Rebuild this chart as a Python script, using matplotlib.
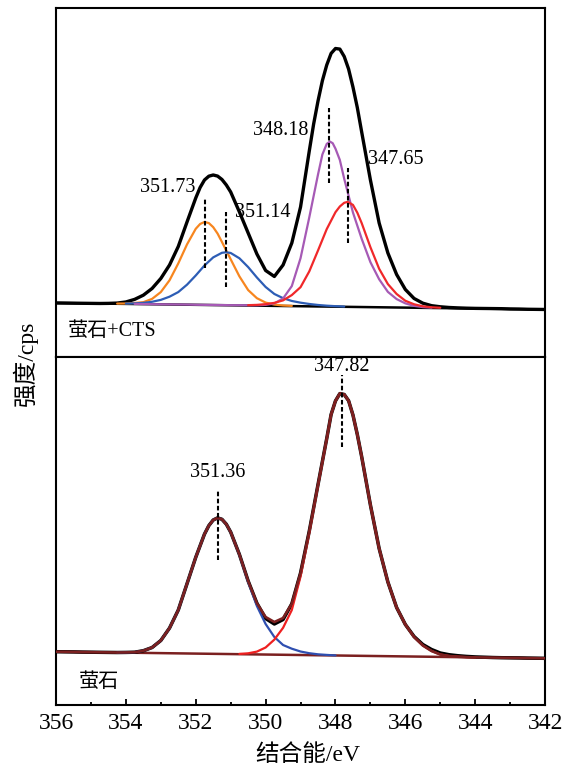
import numpy as np
import matplotlib
matplotlib.use("Agg")
import matplotlib.pyplot as plt

plt.rcParams['font.family'] = ['Liberation Serif', 'Noto Sans CJK SC']
plt.rcParams['axes.unicode_minus'] = False

# shared energy grid, 356 -> 342 eV in 0.25 eV steps
grid = list(np.round(np.arange(356.0, 341.99, -0.25), 2))

# ---- top panel: fluorite + CTS ----
top_black = [54.0, 53.9, 53.8, 53.7, 53.6, 53.5, 53.6, 53.9, 55.0, 57.6,
             61.8, 68.5, 78.5, 92.0, 110.5, 135.0, 159.0, 177.0, 182.0, 177.5,
             165.0, 145.0, 124.0, 103.0, 86.5, 80.5, 92.0, 114.0, 150.0, 206.0,
             256.0, 292.0, 308.5, 300.5, 270.0, 225.0, 177.0, 134.0, 104.0, 82.5,
             67.5, 58.5, 53.8, 51.3, 50.2, 49.5, 49.1, 48.8, 48.6, 48.5,
             48.4, 48.3, 48.0, 47.9, 47.7, 47.6, 47.5]
# extra readings between grid points around the peak tops
top_black_x_ev = [351.875, 351.625, 351.375, 351.125, 348.625, 348.375, 348.125,
                  347.875, 347.625, 347.375]
top_black_x = [169.5, 180.8, 180.9, 172.0, 233.0, 276.3, 303.6, 307.9, 288.0, 249.4]
top_base_ev = [356.0, 342.0]
top_base = [54.0, 47.5]

orange_ev = [354.25, 354.0, 353.75, 353.5, 353.25, 353.0, 352.75, 352.5, 352.25, 352.0,
             351.875, 351.75, 351.625, 351.5, 351.375, 351.25, 351.0, 350.75, 350.5,
             350.25, 350.0, 349.75, 349.5, 349.25]
orange_i = [53.4, 53.5, 54.0, 54.8, 58.1, 64.9, 76.7, 93.6, 112.6, 128.2,
            133.0, 135.0, 133.9, 129.8, 123.4, 115.0, 97.7, 80.6, 66.9,
            58.8, 54.4, 52.4, 51.5, 51.1]

blue_top_ev = [354.0, 353.75, 353.5, 353.25, 353.0, 352.75, 352.5, 352.25, 352.0, 351.75,
               351.5, 351.25, 351.125, 351.0, 350.75, 350.5, 350.25, 350.0, 349.75, 349.5,
               349.25, 349.0, 348.75, 348.5, 348.25, 348.0, 347.75]
blue_top_i = [53.4, 53.6, 54.1, 55.2, 57.1, 60.3, 64.9, 72.3, 81.5, 91.5,
              99.6, 104.2, 104.7, 104.0, 98.7, 89.9, 79.5, 70.0, 63.0, 58.8,
              56.0, 54.3, 53.0, 52.0, 51.3, 50.8, 50.4]

purple_ev = [353.75, 353.5, 353.25, 353.0, 352.75, 352.5, 352.25, 352.0, 351.75, 351.5,
             351.25, 351.0, 350.75, 350.5, 350.25, 350.0, 349.75, 349.5, 349.25, 349.0,
             348.75, 348.5, 348.375, 348.25, 348.16, 348.08, 348.0, 347.875, 347.75, 347.5,
             347.25, 347.0, 346.75, 346.5, 346.25, 346.0, 345.75, 345.5, 345.25]
purple_i = [53.1, 52.9, 52.8, 52.7, 52.6, 52.5, 52.4, 52.2, 52.1, 52.0,
            51.9, 51.8, 51.8, 51.7, 51.7, 52.1, 53.6, 58.5, 70.9, 98.8,
            139.6, 182.5, 202.5, 213.1, 215.4, 213.8, 208.3, 197.0, 178.2, 144.5,
            118.2, 94.8, 77.7, 65.1, 57.9, 53.6, 51.1, 49.9, 49.3]

red_top_ev = [350.5, 350.25, 350.0, 349.75, 349.5, 349.25, 349.0, 348.75, 348.5, 348.25,
              348.0, 347.875, 347.75, 347.65, 347.5, 347.375, 347.25, 347.0, 346.75, 346.5,
              346.25, 346.0, 345.75, 345.5, 345.25, 345.0]
red_top_i = [51.8, 52.1, 52.8, 54.1, 56.6, 61.9, 69.8, 85.6, 106.5, 127.9,
             144.8, 150.5, 154.2, 155.1, 152.1, 144.3, 133.9, 109.8, 88.2, 72.9,
             63.0, 56.2, 52.7, 50.7, 49.7, 49.2]

top_peaks = [351.73, 351.14, 348.18, 347.65]

# ---- bottom panel: fluorite ----
bot_black = [51.3, 51.2, 51.1, 50.9, 50.8, 50.7, 50.6, 50.5, 50.6, 50.8,
             52.3, 55.5, 62.5, 75.0, 93.0, 119.3, 145.7, 168.9, 183.0, 183.7,
             170.9, 148.5, 122.0, 99.8, 84.5, 79.0, 83.5, 99.2, 130.0, 171.9,
             218.4, 264.5, 302.1, 308.5, 288.0, 246.3, 198.0, 154.5, 121.0, 95.5,
             78.5, 66.5, 58.5, 53.5, 50.0, 48.3, 47.3, 46.6, 46.1, 45.8,
             45.5, 45.3, 45.2, 45.1, 44.9, 44.8, 44.7]
bot_fit = [51.3, 51.2, 51.1, 50.9, 50.8, 50.7, 50.6, 50.5, 50.6, 50.8,
           52.3, 55.5, 62.5, 75.0, 93.0, 119.3, 145.7, 168.9, 183.0, 183.7,
           170.9, 148.5, 122.0, 99.8, 86.0, 81.0, 85.0, 99.2, 130.0, 171.9,
           218.4, 264.5, 302.1, 308.5, 288.0, 246.3, 198.0, 154.5, 121.0, 95.5,
           78.5, 66.0, 57.5, 52.0, 48.5, 47.0, 46.3, 45.9, 45.7, 45.5,
           45.4, 45.3, 45.2, 45.1, 44.9, 44.8, 44.7]
# extra readings between grid points around the two peak tops
bot_x_ev = [351.625, 351.375, 351.125, 348.125, 347.875, 347.625, 347.375]
bot_x = [177.4, 185.1, 178.8, 288.5, 309.4, 302.3, 268.5]
bot_base_ev = [356.0, 342.0]
bot_base = [51.3, 44.7]

blue_bot_ev = [354.25, 354.0, 353.75, 353.5, 353.25, 353.0, 352.75, 352.5, 352.25, 352.0,
               351.75, 351.625, 351.5, 351.375, 351.25, 351.125, 351.0, 350.75, 350.5, 350.25,
               350.0, 349.75, 349.5, 349.25, 349.0, 348.75, 348.5, 348.25, 348.0]
blue_bot_i = [50.5, 50.6, 50.8, 52.3, 55.5, 62.5, 75.0, 93.0, 119.3, 145.7,
              168.9, 177.4, 183.0, 185.1, 183.7, 178.8, 170.9, 148.2, 121.0, 97.0,
              79.0, 66.0, 58.0, 54.3, 51.5, 49.8, 48.7, 48.1, 47.6]

red_bot_ev = [350.75, 350.5, 350.25, 350.0, 349.75, 349.5, 349.25, 349.0, 348.75, 348.5,
              348.25, 348.125, 348.0, 347.875, 347.75, 347.625, 347.5, 347.375, 347.25, 347.0,
              346.75, 346.5, 346.25, 346.0, 345.75, 345.5, 345.25, 345.0, 344.75, 344.5,
              344.25, 344.0]
red_bot_i = [49.1, 49.7, 51.4, 55.5, 63.4, 75.2, 93.0, 126.5, 170.0, 217.5,
             264.0, 288.5, 302.0, 309.4, 308.5, 302.3, 288.0, 268.5, 246.3, 198.0,
             154.5, 121.0, 95.5, 78.5, 66.0, 57.5, 52.0, 48.5, 47.0, 46.3,
             45.9, 45.7]

bot_peaks = [351.36, 347.82]

xticks = [356, 354, 352, 350, 348, 346, 344, 342]


def merged(ev, vals, ev_extra, vals_extra):
    pairs = sorted(zip(list(ev) + list(ev_extra), list(vals) + list(vals_extra)), reverse=True)
    return [p[0] for p in pairs], [p[1] for p in pairs]


fig = plt.figure(figsize=(5.74, 7.69), dpi=100)
ax1 = fig.add_axes([0.0976, 0.5358, 0.852, 0.4538])
ax2 = fig.add_axes([0.0976, 0.0832, 0.852, 0.4526])

dash = (0, (2.2, 1.2))
lk = dict(solid_joinstyle='round', solid_capstyle='round')

# top
ax1.plot(top_base_ev, top_base, color='black', lw=1.8, zorder=2)
ex, ey = merged(grid, top_black, top_black_x_ev, top_black_x)
ax1.plot(ex, ey, color='black', lw=2.4, zorder=3, **lk)
ax1.plot(orange_ev, orange_i, color='#F7861F', lw=1.6, zorder=4, **lk)
ax1.plot(blue_top_ev, blue_top_i, color='#2D5DB5', lw=1.6, zorder=4, **lk)
ax1.plot(purple_ev, purple_i, color='#A65AB5', lw=1.6, zorder=4, **lk)
ax1.plot(red_top_ev, red_top_i, color='#F0282A', lw=1.6, zorder=4, **lk)

# dashed markers (top, bottom of each dash) and label placement
top_dash = [(159, 89), (145, 70), (249, 174), (189, 114)]
top_text = [(352.0, 169, 'right'), (350.88, 144, 'left'), (348.79, 226, 'right'), (347.07, 197, 'left')]
for p, (y0, y1), (tx, ty, ha) in zip(top_peaks, top_dash, top_text):
    ax1.plot([p, p], [y1, y0], color='black', lw=1.5, linestyle=dash, zorder=5)
    ax1.text(tx, ty, '%.2f' % p, fontsize=14.5, ha=ha, va='center', zorder=1)

ax1.text(0.0245, 0.0716, '萤石+CTS', transform=ax1.transAxes, fontsize=14.5,
         ha='left', va='center')

# bottom
ax2.plot(bot_base_ev, bot_base, color='#7B2020', lw=1.8, zorder=2)
bx, by = merged(grid, bot_black, bot_x_ev, bot_x)
fx, fy = merged(grid, bot_fit, bot_x_ev, bot_x)
ax2.plot(bx, by, color='black', lw=2.5, zorder=3, **lk)
ax2.plot(blue_bot_ev, blue_bot_i, color='#2F4FB0', lw=1.6, zorder=4, **lk)
ax2.plot(red_bot_ev, red_bot_i, color='#EE2020', lw=1.6, zorder=4, **lk)
ax2.plot(fx, fy, color='#7B2020', lw=1.9, zorder=5, **lk)

bot_dash = [(213, 143), (328, 256)]
bot_text = [(351.36, 230), (347.82, 336)]
for p, (y0, y1), (tx, ty) in zip(bot_peaks, bot_dash, bot_text):
    ax2.plot([p, p], [y1, y0], color='black', lw=1.5, linestyle=dash, zorder=6)
    ax2.text(tx, ty, '%.2f' % p, fontsize=14.5, ha='center', va='center')

ax2.text(0.047, 0.066, '萤石', transform=ax2.transAxes, fontsize=14.5,
         ha='left', va='center')

for ax in (ax1, ax2):
    ax.set_xlim(356, 342)
    for s in ax.spines.values():
        s.set_linewidth(1.5)
    ax.set_yticks([])

ax1.set_ylim(0, 349)
ax2.set_ylim(-2, 346)
ax1.set_xticks([])

ax2.set_xticks(xticks)
ax2.set_xticks(np.arange(355, 342, -2), minor=True)
ax2.tick_params(axis='x', which='major', direction='in', length=4.5, width=1.3,
                labelsize=17, pad=6, top=False)
ax2.tick_params(axis='x', which='minor', direction='in', length=2.2, width=1.3, top=False)

fig.text(0.537, 0.018, '结合能/eV', fontsize=17, ha='center', va='center')
fig.text(0.0436, 0.528, '强度/cps', fontsize=17, ha='center', va='center', rotation=90)

fig.savefig('out.png', dpi=100)
